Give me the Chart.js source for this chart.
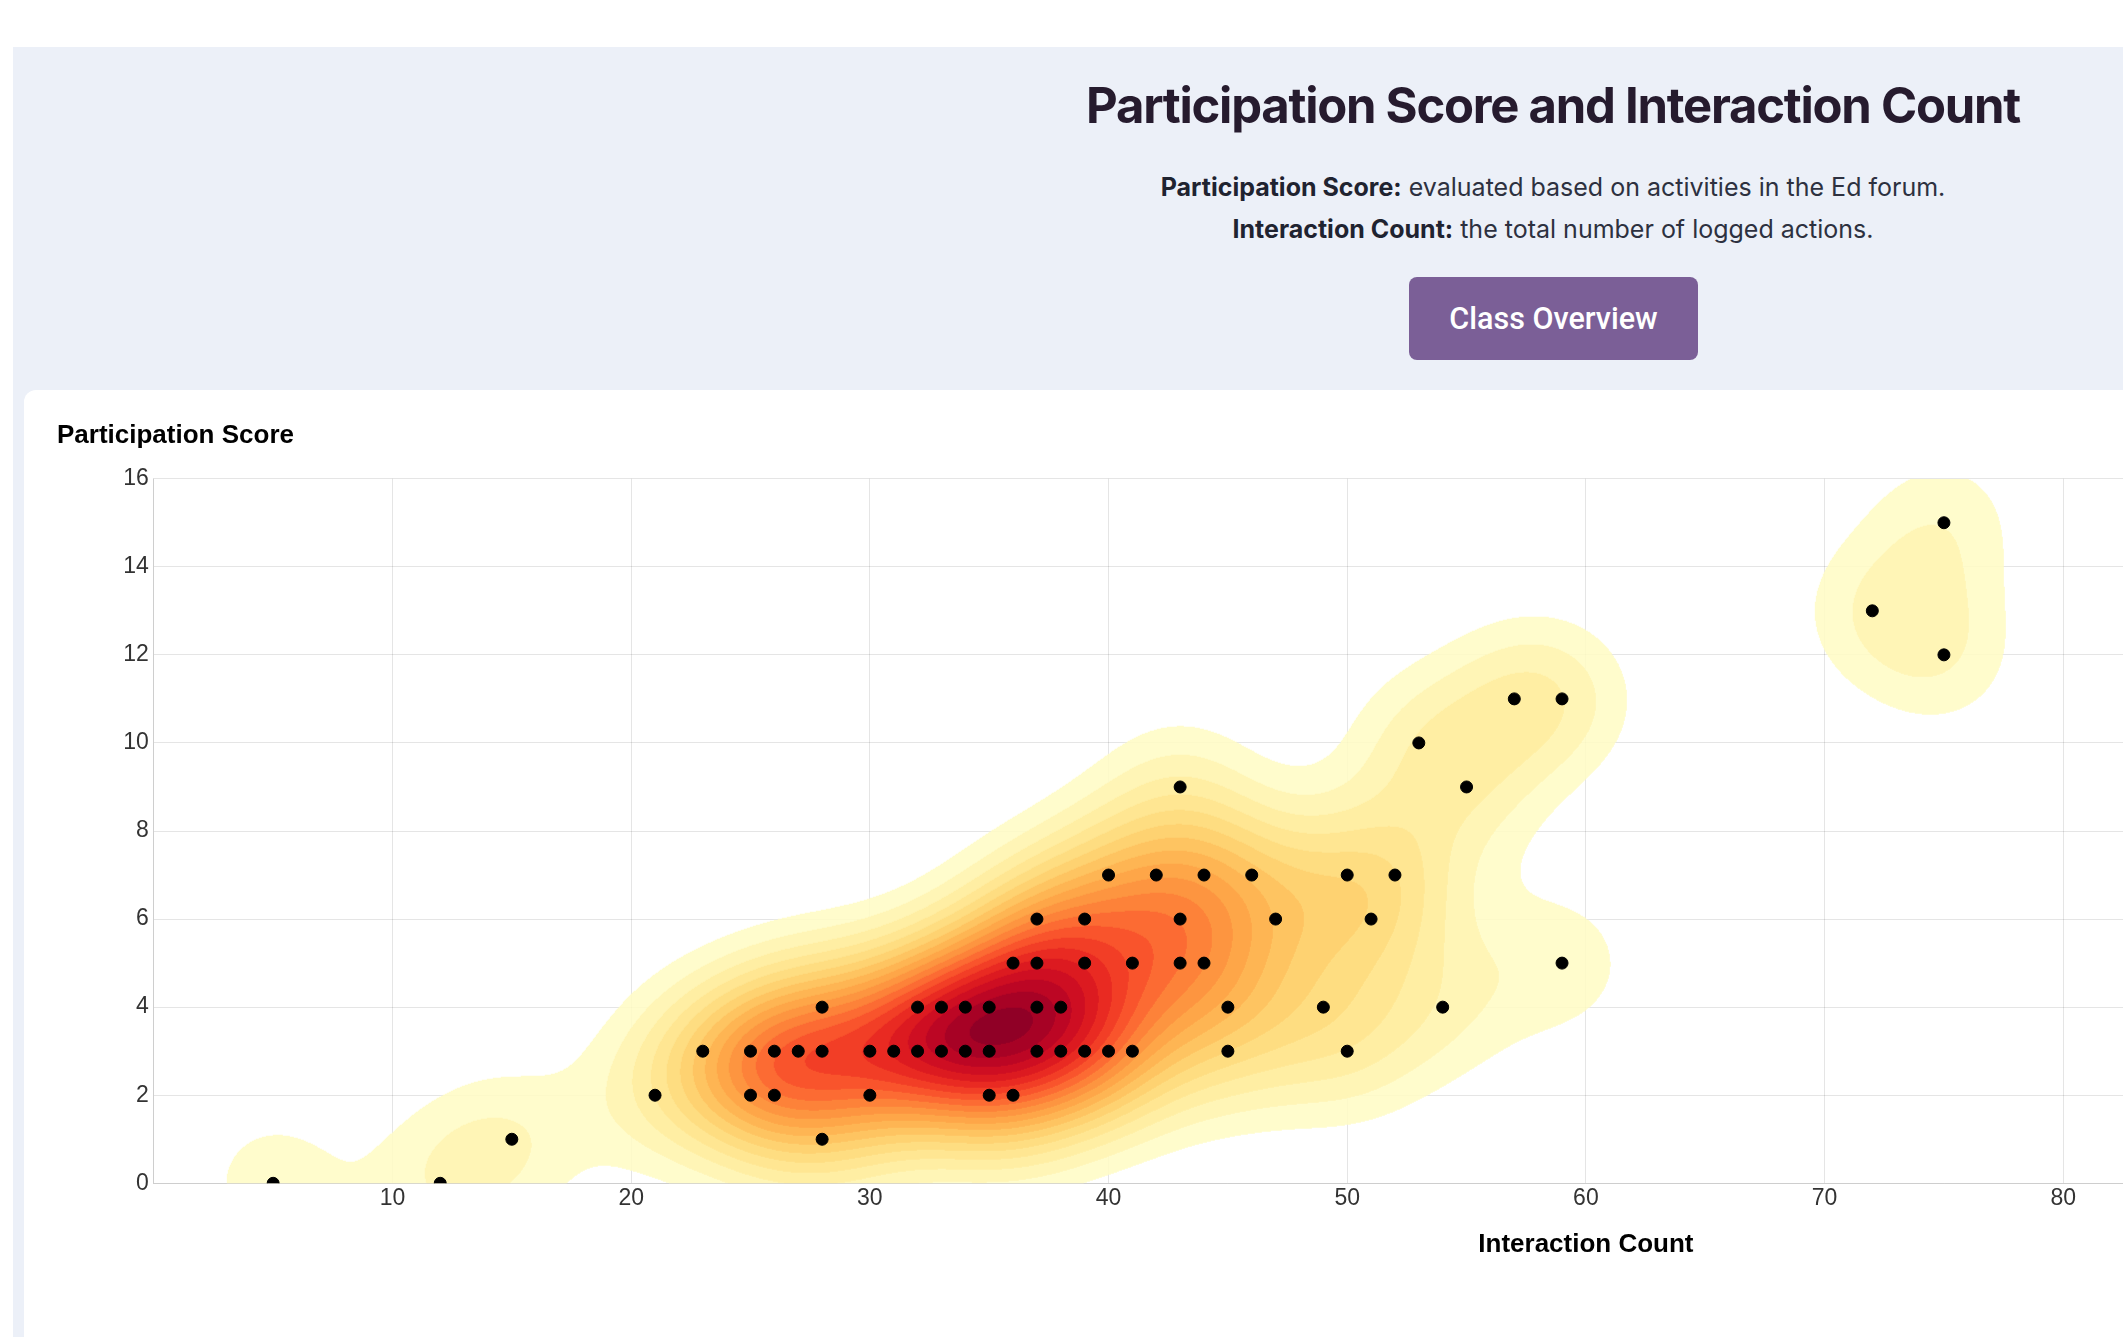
<!DOCTYPE html>
<html>
<head>
  <meta charset="utf-8">
  <title>Participation Score and Interaction Count</title>
  <script src="https://cdn.jsdelivr.net/npm/chart.js"></script>
  <style>
    body { margin: 0; background: #fff; overflow: hidden; }
    .page { position: relative; width: 3106px; height: 1337px; font-family: Inter, "Noto Sans", sans-serif; }
    .panel { position: absolute; left: 13px; top: 47px; width: 3080px; height: 1400px; background: #ecf0f8; }
    .title { position: absolute; left: 0; top: 76px; width: 3106px; text-align: center; font-size: 49px; line-height: 60px;
      font-weight: 700; letter-spacing: -1.25px; color: #261b2e; margin: 0; }
    .sub { position: absolute; left: 0; width: 3106px; text-align: center; font-size: 25px; line-height: 42px; color: #2d3140; margin: 0; }
    .sub b { color: #1f2330; }
    .btn { position: absolute; left: 1409px; top: 277px; width: 289px; height: 83px; border-radius: 8px; background: #7b5f97;
      color: #fff; font-family: Roboto, sans-serif; font-weight: 500; font-size: 30.5px; line-height: 83px; text-align: center; }
    .card { position: absolute; left: 24px; top: 390px; width: 3058px; height: 1400px; background: #fff; border-radius: 12px; }
    #chartBox { position: absolute; left: 57.2px; top: 400px; }
  </style>
</head>

<body>
  <div class="page">
    <div class="panel"></div>
    <h1 class="title">Participation Score and Interaction Count</h1>
    <p class="sub" style="top: 166px"><b>Participation Score:</b> evaluated based on activities in the Ed forum.</p>
    <p class="sub" style="top: 208px"><b>Interaction Count:</b> the total number of logged actions.</p>
    <div class="btn">Class Overview</div>
    <div class="card"></div>
    <div id="chartBox">
      <canvas id="scoreChart" width="2991" height="900"></canvas>
    </div>
  </div>

  <script>
    // one entry per student
    const interactionCount = [5, 12, 15, 21, 23, 25, 25, 26, 26, 27, 28, 28, 28, 30, 30, 31, 32, 32, 33, 33,
      34, 34, 35, 35, 35, 36, 36, 37, 37, 37, 37, 38, 38, 39, 39, 39, 40, 40, 41, 41,
      42, 43, 43, 43, 44, 44, 45, 45, 46, 47, 49, 50, 50, 51, 52, 53, 54, 55, 57, 59,
      59, 72, 75, 75];
    const participationScore = [0, 0, 1, 2, 3, 3, 2, 3, 2, 3, 3, 4, 1, 3, 2, 3, 3, 4, 3, 4,
      3, 4, 3, 4, 2, 2, 5, 3, 4, 5, 6, 3, 4, 3, 5, 6, 3, 7, 3, 5,
      7, 9, 6, 5, 5, 7, 4, 3, 7, 6, 4, 7, 3, 6, 7, 10, 4, 9, 11, 11,
      5, 13, 15, 12];

    const xTicks = { min: 0, max: 120, step: 10 };
    const yTicks = { min: 0, max: 16, step: 2 };

    // density contour settings: kernel width in px, outermost threshold, number of bands
    const bandwidth = 60;
    const firstLevel = 0.74;
    const levelCount = 20;
    const contourAlpha = 0.85;
    const ylOrRd = ['#ffffcc', '#ffeda0', '#fed976', '#feb24c', '#fd8d3c', '#fc4e2a', '#e31a1c', '#bd0026', '#800026'];

    function hexRgb(h) {
      return [parseInt(h.slice(1, 3), 16), parseInt(h.slice(3, 5), 16), parseInt(h.slice(5, 7), 16)];
    }

    // same basis spline ramp that d3 uses for its sequential schemes
    function ramp(t) {
      const vals = ylOrRd.map(hexRgb);
      const n = vals.length - 1;
      t = Math.min(Math.max(t, 0), 1);
      const i = t >= 1 ? n - 1 : Math.floor(t * n);
      const out = [];
      for (let ch = 0; ch < 3; ch++) {
        const v1 = vals[i][ch], v2 = vals[i + 1][ch];
        const v0 = i > 0 ? vals[i - 1][ch] : 2 * v1 - v2;
        const v3 = i < n - 1 ? vals[i + 2][ch] : 2 * v2 - v1;
        const t1 = (t - i / n) * n, t2 = t1 * t1, t3 = t2 * t1;
        out.push(((1 - 3 * t1 + 3 * t2 - t3) * v0 + (4 - 6 * t2 + 3 * t3) * v1
          + (1 + 3 * t1 + 3 * t2 - 3 * t3) * v2 + t3 * v3) / 6);
      }
      return out.map(v => Math.min(255, Math.max(0, v)));
    }

    const densityPlugin = {
      id: 'densityContours',
      beforeDatasetsDraw(chart) {
        const { ctx, chartArea: area, scales: { x, y } } = chart;
        const w = Math.ceil(area.right - area.left), h = Math.ceil(area.bottom - area.top);
        const dens = new Float32Array(w * h);
        const s2 = 2 * bandwidth * bandwidth;
        const reach = Math.ceil(bandwidth * 4);

        interactionCount.forEach((ic, i) => {
          const px = x.getPixelForValue(ic) - area.left;
          const py = y.getPixelForValue(participationScore[i]) - area.top;
          const c0 = Math.max(0, Math.floor(px - reach)), c1 = Math.min(w - 1, Math.ceil(px + reach));
          const r0 = Math.max(0, Math.floor(py - reach)), r1 = Math.min(h - 1, Math.ceil(py + reach));
          const gx = [];
          for (let c = c0; c <= c1; c++) gx.push(Math.exp(-((c + 0.5 - px) ** 2) / s2));
          for (let r = r0; r <= r1; r++) {
            const gy = Math.exp(-((r + 0.5 - py) ** 2) / s2);
            const row = r * w;
            for (let c = c0; c <= c1; c++) dens[row + c] += gy * gx[c - c0];
          }
        });

        let max = 0;
        for (let k = 0; k < dens.length; k++) if (dens[k] > max) max = dens[k];
        const step = (max - firstLevel) / (levelCount - 0.5);

        // nested bands, each one laid over the previous with some transparency
        const cols = [[0, 0, 0, 0]];
        for (let k = 1; k <= levelCount; k++) {
          const c = ramp((k - 0.5) / levelCount);
          const prev = cols[k - 1];
          const a = contourAlpha + prev[3] * (1 - contourAlpha);
          const mix = ch => (contourAlpha * c[ch] + prev[3] * (1 - contourAlpha) * prev[ch]) / a;
          cols.push([mix(0), mix(1), mix(2), a]);
        }

        const off = document.createElement('canvas');
        off.width = w;
        off.height = h;
        const octx = off.getContext('2d');
        const img = octx.createImageData(w, h);
        for (let k = 0; k < dens.length; k++) {
          if (dens[k] < firstLevel) continue;
          const lv = Math.min(levelCount, 1 + Math.floor((dens[k] - firstLevel) / step));
          const col = cols[lv];
          img.data[k * 4] = col[0];
          img.data[k * 4 + 1] = col[1];
          img.data[k * 4 + 2] = col[2];
          img.data[k * 4 + 3] = Math.round(col[3] * 255);
        }
        octx.putImageData(img, 0, 0);

        ctx.save();
        ctx.beginPath();
        ctx.rect(area.left, area.top, area.right - area.left, area.bottom - area.top);
        ctx.clip();
        ctx.drawImage(off, area.left, area.top);
        ctx.restore();
      }
    };

    Chart.defaults.font.family = "Arial, 'Liberation Sans', Helvetica, sans-serif";

    new Chart(document.getElementById('scoreChart'), {
      type: 'scatter',
      data: {
        datasets: [{
          label: 'Students',
          data: interactionCount.map((ic, i) => ({ x: ic, y: participationScore[i] })),
          backgroundColor: '#000',
          borderColor: '#000',
          pointRadius: 6,
          pointBorderWidth: 1,
        }]
      },
      options: {
        responsive: false,
        animation: false,
        events: [],
        layout: { padding: { left: 0, top: 0, right: 30, bottom: 40 } },
        plugins: {
          legend: { display: false },
          tooltip: { enabled: false },
          title: {
            display: true,
            text: 'Participation Score',
            align: 'start',
            color: '#000',
            font: { size: 26, weight: 'bold' },
            padding: { top: 20, bottom: 27.5 }
          }
        },
        scales: {
          x: {
            type: 'linear',
            min: xTicks.min,
            max: xTicks.max,
            ticks: {
              stepSize: xTicks.step,
              color: '#333',
              font: { size: 23 },
              padding: 2,
              callback: v => (v === 0 ? '' : v)
            },
            grid: { color: 'rgba(0,0,0,0.1)', drawTicks: false },
            border: { color: 'rgba(0,0,0,0.1)' },
            title: {
              display: true,
              text: 'Interaction Count',
              color: '#000',
              font: { size: 26, weight: 'bold' },
              padding: { top: 0, bottom: 0 }
            },
            afterFit: s => { s.height = 76.7; }
          },
          y: {
            min: yTicks.min,
            max: yTicks.max,
            ticks: { stepSize: yTicks.step, color: '#333', font: { size: 23 }, padding: 5 },
            grid: { color: 'rgba(0,0,0,0.1)', drawTicks: false },
            border: { color: 'rgba(0,0,0,0.1)' },
            afterFit: s => { s.width = 96.8; }
          }
        }
      },
      plugins: [densityPlugin]
    });
  </script>
</body>

</html>
